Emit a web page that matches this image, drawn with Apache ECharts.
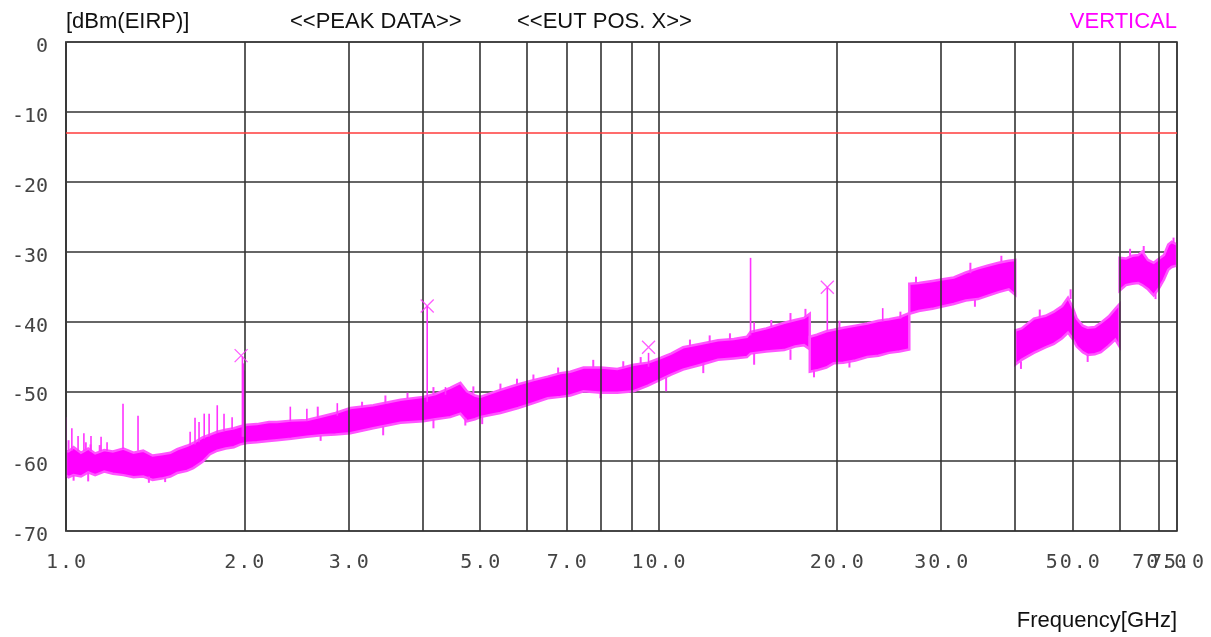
<!DOCTYPE html>
<html>
<head>
    <meta charset="utf-8">
    <script src="https://cdn.jsdelivr.net/npm/echarts@6.0.0/dist/echarts.min.js"></script>
    <style>
        html, body { margin: 0; padding: 0; background: #fff; }
    </style>
</head>
<body>
    <div id="main" style="width: 1211px;height:637px;"></div>
    <script type="text/javascript">
        // spectrum envelope (GHz, dBm); a repeated frequency marks a band switch
        var freqGHz = [
            1.00, 1.01, 1.03, 1.06, 1.09, 1.12, 1.16, 1.20, 1.25, 1.30, 1.35, 1.40, 1.45, 1.50, 1.54,
            1.60, 1.64, 1.70, 1.75, 1.80, 1.86, 1.92, 1.97, 2.02, 2.10, 2.20, 2.27, 2.40, 2.55, 2.70,
            2.85, 3.02, 3.30, 3.67, 4.01, 4.20, 4.45, 4.63, 4.75, 4.90, 5.00, 5.20, 5.41, 5.80, 6.15,
            6.50, 6.83, 7.10, 7.47, 8.00, 8.52, 9.08, 9.60, 10.1, 10.5, 11.0, 11.8, 12.6, 13.4, 14.1,
            14.3, 15.2, 16.3, 17.0, 17.6, 18.0,
            18.0, 18.5, 19.2, 19.75, 20.5, 21.5, 22.5, 23.5, 24.5, 25.5, 26.5,
            26.5, 27.5, 29.0, 30.0, 31.5, 33.0, 34.6, 36.0, 37.5, 39.0, 40.0,
            40.0, 41.0, 43.0, 45.0, 46.5, 48.0, 49.1, 50.0, 50.8, 52.0, 53.0, 54.5, 55.8, 57.5, 59.0, 60.0,
            60.0, 61.5, 63.0, 64.5, 65.5, 67.0, 68.5, 70.0, 71.3, 72.5, 73.5, 75.0
        ];
        var bandLow = [
            -62.0, -62.3, -62.0, -62.2, -61.6, -62.0, -61.5, -61.8, -62.0, -62.3, -62.2, -62.7, -62.5, -62.2, -61.7,
            -61.4, -61.0, -60.1, -59.0, -58.5, -58.2, -58.0, -57.6, -57.4, -57.3, -57.1, -57.0, -56.8, -56.5, -56.3,
            -56.2, -56.0, -55.3, -54.5, -54.3, -54.0, -53.7, -53.2, -54.3, -54.0, -53.7, -53.4, -53.1, -52.4, -51.7,
            -51.0, -50.8, -50.6, -50.0, -50.2, -50.2, -50.0, -49.2, -48.3, -47.6, -46.9, -46.2, -45.5, -45.3, -45.1,
            -44.6, -44.3, -44.1, -43.6, -43.4, -44.0,
            -47.2, -47.0, -46.6, -46.0, -45.9, -45.6, -45.1, -44.9, -44.5, -44.3, -44.0,
            -38.9, -38.5, -38.2, -37.9, -37.5, -37.0, -36.8, -36.3, -35.8, -35.4, -36.2,
            -46.2, -45.5, -44.5, -43.7, -43.2, -42.4, -41.6, -42.5, -43.6, -44.4, -44.8, -44.7, -44.4, -43.5, -42.6, -43.6,
            -35.6, -34.8, -34.6, -34.5, -34.8, -35.4, -36.3, -35.2, -34.0, -32.6, -32.2, -32.0
        ];
        var bandHigh = [
            -58.6, -58.6, -58.0, -58.8, -58.2, -58.9, -58.4, -58.6, -58.2, -58.8, -58.5, -59.2, -59.0, -58.8, -58.3,
            -57.8, -57.4, -56.6, -56.2, -55.8, -55.5, -55.3, -55.0, -54.8, -54.7, -54.4, -54.4, -54.2, -54.1, -53.6,
            -53.1, -52.4, -52.0, -51.2, -50.8, -50.4, -49.5, -48.8, -50.0, -50.6, -50.8, -50.3, -49.8, -49.0, -48.4,
            -47.9, -47.4, -47.2, -46.6, -46.6, -46.8, -46.2, -45.9, -45.2, -44.6, -43.7, -43.2, -42.7, -42.5, -42.2,
            -41.5, -41.0, -40.2, -39.8, -39.5, -38.9,
            -42.2, -41.9, -41.4, -41.2, -40.9, -40.6, -40.3, -39.9, -39.7, -39.4, -38.8,
            -34.6, -34.5, -34.2, -34.0, -33.7, -33.0, -32.4, -32.0, -31.6, -31.3, -31.2,
            -41.3, -41.0, -39.6, -39.2, -38.6, -37.8, -36.6, -38.0, -39.6, -40.6, -40.9, -40.8, -40.2, -39.3, -38.2, -37.5,
            -30.9, -31.0, -30.6, -30.5, -30.0, -31.2, -31.6, -31.0, -30.5, -29.0, -28.6, -29.0
        ];
        // narrow spurs above the noise floor: [GHz, base dBm, top dBm]
        var spurs = [
            [1.00, -62.0, -53.7], [1.023, -58.5, -55.3], [1.048, -58.5, -56.4], [1.072, -58.5, -56.0],
            [1.102, -58.5, -56.4], [1.146, -58.5, -56.5], [1.173, -58.5, -57.3], [1.248, -58.3, -51.8],
            [1.323, -58.5, -53.5], [1.62, -57.8, -55.8], [1.651, -57.6, -53.8], [1.677, -57.3, -54.4],
            [1.711, -56.8, -53.2], [1.744, -56.5, -53.2], [1.80, -56.0, -52.0], [1.848, -55.7, -53.2],
            [1.907, -55.4, -53.7], [1.985, -56.5, -45.0], [1.993, -56.5, -46.0], [2.0, -56.5, -47.0],
            [2.391, -54.3, -52.2], [2.55, -54.2, -52.5], [2.87, -53.5, -51.7], [4.07, -51.5, -37.8],
            [4.37, -50.5, -49.4], [9.62, -46.5, -44.5], [14.3, -42.0, -30.9], [14.5, -41.5, -40.1],
            [19.27, -41.3, -35.1], [23.9, -40.0, -38.1]
        ];
        // short noise excursions past the band edges: [GHz, from dBm, to dBm]
        var noiseTicks = [
            [1.01, -58.6, -57.0], [1.08, -58.5, -57.3], [1.10, -58.6, -57.6], [1.14, -58.6, -57.7],
            [1.03, -62.0, -62.8], [1.09, -61.6, -62.9], [1.38, -62.2, -63.1], [1.47, -62.4, -63.0],
            [2.66, -53.8, -52.2], [3.16, -52.3, -51.5], [3.46, -51.8, -50.6], [3.77, -51.0, -50.2],
            [4.17, -50.5, -49.4], [4.87, -50.3, -49.3], [5.41, -49.8, -48.9], [5.77, -49.1, -48.2],
            [6.15, -48.4, -47.6], [6.77, -47.5, -46.6],
            [2.69, -56.3, -57.1], [3.43, -55.0, -56.3], [4.17, -54.0, -55.3], [4.72, -53.8, -54.9],
            [5.04, -53.6, -54.7],
            [7.76, -46.6, -45.5], [8.72, -46.7, -45.7], [9.33, -46.0, -45.1], [11.3, -43.5, -42.6],
            [12.2, -43.0, -42.0], [13.2, -42.6, -41.7], [15.5, -40.8, -39.8], [16.7, -40.0, -38.8],
            [17.7, -39.4, -38.2],
            [7.98, -50.2, -51.0], [10.3, -48.0, -50.0], [11.9, -45.9, -47.4], [14.5, -44.5, -46.2],
            [16.7, -44.0, -45.5],
            [18.3, -47.0, -48.0], [21.0, -45.7, -46.6], [25.6, -39.6, -38.6], [20.2, -41.0, -39.9],
            [27.2, -34.5, -33.6], [33.6, -33.1, -31.6], [37.9, -31.4, -30.6], [34.2, -36.9, -37.9],
            [40.9, -45.7, -46.8], [49.6, -36.8, -35.4], [53.0, -44.8, -45.8], [44.0, -39.4, -38.3],
            [65.9, -30.2, -29.2], [74.0, -28.8, -28.0], [69.0, -35.8, -36.8], [62.5, -30.7, -29.6]
        ];
        var peakMarks = [[1.975, -44.9], [4.07, -37.8], [9.62, -43.7], [19.27, -35.1]];
        var limitLevel = -13;
        var gridFreqs = [1, 2, 3, 4, 5, 6, 7, 8, 9, 10, 20, 30, 40, 50, 60, 70, 75];
        var labelFreqs = [1, 2, 3, 5, 7, 10, 20, 30, 50, 70, 75];

        // split envelope into segments where the frequency repeats
        var segments = [];
        var segStart = 0;
        for (var i = 1; i < freqGHz.length; i++) {
            if (freqGHz[i] === freqGHz[i - 1]) {
                segments.push([segStart, i - 1]);
                segStart = i;
            }
        }
        segments.push([segStart, freqGHz.length - 1]);

        var myChart = echarts.init(document.getElementById('main'));

        var monoFont = 'DejaVu Sans Mono';
        var titleFont = '22px "Liberation Sans"';

        // spaced-out frequency label, one fixed-width box per character
        function spacedLabel(f) {
            return f.toFixed(1).split('').map(function (c) { return '{c|' + c + '}'; }).join('');
        }

        function verticalStroke(color, width) {
            return function (params, api) {
                var p0 = api.coord([api.value(0), api.value(1)]);
                var p1 = api.coord([api.value(0), api.value(2)]);
                return {
                    type: 'line',
                    shape: { x1: p0[0], y1: p0[1], x2: p1[0], y2: p1[1] },
                    style: { stroke: color, lineWidth: width }
                };
            };
        }

        var option = {
            animation: false,
            backgroundColor: '#ffffff',
            grid: {
                left: 66, right: 34, top: 42, bottom: 106,
                show: true,
                borderColor: '#808080',
                borderWidth: 2
            },
            graphic: [
                { type: 'text', left: 66, top: 11, style: { text: '[dBm(EIRP)]', font: titleFont, fill: '#111' } },
                { type: 'text', left: 290, top: 11, style: { text: '<<PEAK DATA>>', font: titleFont, fill: '#111' } },
                { type: 'text', left: 517, top: 11, style: { text: '<<EUT POS. X>>', font: titleFont, fill: '#111' } },
                { type: 'text', right: 34, top: 11, style: { text: 'VERTICAL', font: titleFont, fill: '#ff00ff' } },
                { type: 'text', right: 34, top: 610, style: { text: 'Frequency[GHz]', font: titleFont, fill: '#111' } }
            ],
            xAxis: {
                type: 'log',
                logBase: 10,
                min: 1,
                max: 75,
                axisLine: { show: false },
                axisTick: { show: false },
                axisLabel: { show: false },
                splitLine: { show: false }
            },
            yAxis: {
                type: 'value',
                min: -70,
                max: 0,
                interval: 10,
                axisLine: { show: true, lineStyle: { color: '#555', width: 2 } },
                axisTick: { show: false },
                axisLabel: {
                    margin: 18,
                    fontFamily: monoFont,
                    fontSize: 20,
                    color: '#444',
                    verticalAlign: 'top',
                    lineHeight: 10
                },
                splitLine: { lineStyle: { color: '#333', width: 1.6 } }
            },
            series: [
                {
                    // vertical grid + frequency labels
                    type: 'line',
                    data: [],
                    silent: true,
                    markLine: {
                        silent: true,
                        symbol: 'none',
                        lineStyle: { color: '#333', width: 1.6, type: 'solid' },
                        label: { show: false },
                        data: gridFreqs.map(function (f) {
                            return {
                                xAxis: f,
                                label: {
                                    show: labelFreqs.indexOf(f) >= 0,
                                    position: 'start',
                                    distance: 22,
                                    formatter: spacedLabel(f),
                                    rich: {
                                        c: { width: 14, align: 'center', fontFamily: monoFont, fontSize: 20, color: '#444' }
                                    }
                                }
                            };
                        })
                    }
                },
                {
                    // limit line
                    type: 'line',
                    data: [],
                    silent: true,
                    markLine: {
                        silent: true,
                        symbol: 'none',
                        label: { show: false },
                        lineStyle: { color: '#ff3b3b', width: 1.5, type: 'solid' },
                        data: [{ yAxis: limitLevel }]
                    }
                },
                {
                    name: 'band',
                    type: 'custom',
                    clip: true,
                    encode: { x: 0, y: 1 },
                    data: segments.map(function (s) { return [freqGHz[s[0]], bandHigh[s[0]]]; }),
                    renderItem: function (params, api) {
                        var seg = segments[params.dataIndex];
                        var pts = [];
                        for (var k = seg[0]; k <= seg[1]; k++) pts.push(api.coord([freqGHz[k], bandHigh[k]]));
                        for (var k2 = seg[1]; k2 >= seg[0]; k2--) pts.push(api.coord([freqGHz[k2], bandLow[k2]]));
                        return {
                            type: 'polygon',
                            shape: { points: pts },
                            style: { fill: '#ff00ff', stroke: '#ff55ff', lineWidth: 2.5, lineJoin: 'miter' }
                        };
                    },
                    z: 3
                },
                {
                    name: 'noise',
                    type: 'custom',
                    clip: true,
                    encode: { x: 0, y: 2 },
                    data: noiseTicks,
                    renderItem: verticalStroke('#ff40ff', 2),
                    z: 4
                },
                {
                    name: 'spurs',
                    type: 'custom',
                    clip: true,
                    encode: { x: 0, y: 2 },
                    data: spurs,
                    renderItem: verticalStroke('#ff33ff', 1.6),
                    z: 4
                },
                {
                    name: 'peaks',
                    type: 'scatter',
                    data: peakMarks,
                    symbol: 'path://M0,0L10,10M10,0L0,10',
                    symbolSize: 13,
                    itemStyle: { color: 'none', borderColor: '#ff33ff', borderWidth: 1.3 },
                    z: 5
                }
            ]
        };
        myChart.setOption(option);
    </script>
</body>
</html>
